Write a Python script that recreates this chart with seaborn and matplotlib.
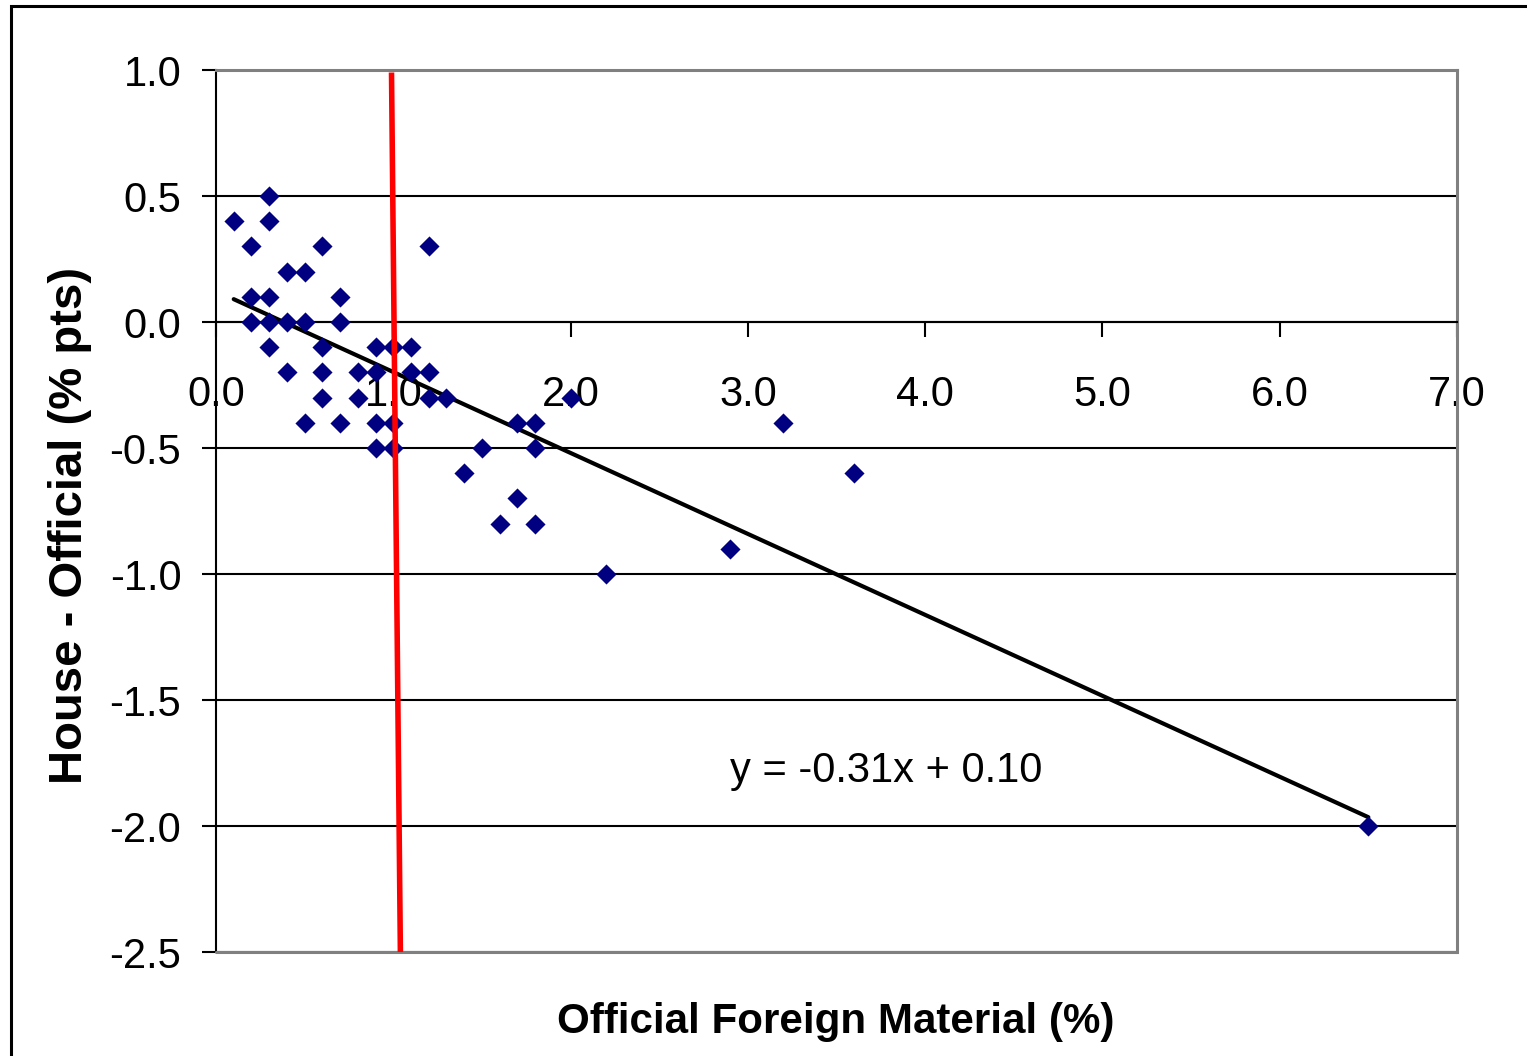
import numpy as np
import seaborn as sns
import matplotlib.pyplot as plt
from matplotlib.patches import Rectangle

# data
official_fm = [0.1, 0.2, 0.2, 0.2, 0.3, 0.3, 0.3, 0.3, 0.3,
               0.4, 0.4, 0.4, 0.5, 0.5, 0.5, 0.6, 0.6, 0.6, 0.6,
               0.7, 0.7, 0.7, 0.8, 0.8, 0.9, 0.9, 0.9, 0.9,
               1.0, 1.0, 1.0, 1.1, 1.1, 1.2, 1.2, 1.2, 1.3,
               1.4, 1.5, 1.6, 1.7, 1.7, 1.8, 1.8, 1.8,
               2.0, 2.2, 2.9, 3.2, 3.6, 6.5]
house_minus_official = [0.4, 0.3, 0.1, 0.0, 0.5, 0.4, 0.1, 0.0, -0.1,
                        0.2, 0.0, -0.2, 0.2, 0.0, -0.4, 0.3, -0.1, -0.2, -0.3,
                        0.1, 0.0, -0.4, -0.2, -0.3, -0.1, -0.2, -0.4, -0.5,
                        -0.1, -0.4, -0.5, -0.1, -0.2, 0.3, -0.2, -0.3, -0.3,
                        -0.6, -0.5, -0.8, -0.4, -0.7, -0.4, -0.5, -0.8,
                        -0.3, -1.0, -0.9, -0.4, -0.6, -2.0]

x_ticks = [0.0, 1.0, 2.0, 3.0, 4.0, 5.0, 6.0, 7.0]
y_ticks = [-2.5, -2.0, -1.5, -1.0, -0.5, 0.0, 0.5, 1.0]
equation = "y = -0.31x + 0.10"

# hand drawn red marker line near 1.0 %
red_x = [0.99, 1.04]
red_y = [0.99, -2.5]

sns.set_style("white")
plt.rcParams['font.family'] = ['Liberation Sans', 'DejaVu Sans']
plt.rcParams['text.color'] = 'black'
plt.rcParams['xtick.color'] = 'black'
plt.rcParams['ytick.color'] = 'black'

fig = plt.figure(figsize=(15.27, 10.56), dpi=100)
ax = fig.add_axes([216 / 1527, 1 - 952 / 1056, (1457 - 216) / 1527, (952 - 70) / 1056])

sns.scatterplot(x=official_fm, y=house_minus_official, marker='D', s=105,
                color='#000080', linewidth=0, ax=ax, zorder=4)
sns.regplot(x=official_fm, y=house_minus_official, scatter=False, ci=None,
            color='black', line_kws=dict(lw=3), ax=ax)
ax.plot(red_x, red_y, color='#ff0000', lw=4, zorder=6, solid_capstyle='butt')

ax.set_xlim(0, 7)
ax.set_ylim(-2.5, 1.0)
ax.set_xticks(x_ticks)
ax.set_xticklabels([f"{v:.1f}" for v in x_ticks])
ax.set_yticks(y_ticks)
ax.set_yticklabels([f"{v:.1f}" for v in y_ticks])

ax.grid(axis='y', color='black', lw=1.5)
ax.set_axisbelow(True)

ax.spines['bottom'].set_position(('data', 0))
ax.spines['bottom'].set_color('black')
ax.spines['bottom'].set_linewidth(1.5)
ax.spines['left'].set_color('black')
ax.spines['left'].set_linewidth(1.5)
for s in ['top', 'right']:
    ax.spines[s].set_color('#808080')
    ax.spines[s].set_linewidth(2.2)
ax.axhline(-2.5, color='#808080', lw=2.2, clip_on=False, zorder=5)

ax.tick_params(axis='x', direction='out', length=11, width=1.5, pad=27,
               labelsize=30, bottom=True)
ax.tick_params(axis='y', direction='out', length=10, width=1.5, pad=15,
               labelsize=30, left=True)

ax.text(2.9, -1.78, equation, fontsize=30, ha='left', va='center')

fig.text(70 / 1527, 1 - 525 / 1056, "House - Official (% pts)", rotation=90,
         fontsize=34, fontweight='bold', ha='center', va='center')
fig.text(836 / 1527, 1 - 1022 / 1056, "Official Foreign Material (%)",
         fontsize=30.3, fontweight='bold', ha='center', va='center')

fig.add_artist(Rectangle((11 / 1527, -0.1), 1.2, 1 - 6 / 1056 + 0.1,
                         transform=fig.transFigure, fill=False, lw=2.2,
                         ec='black'))

fig.savefig('out.png', dpi=100)
